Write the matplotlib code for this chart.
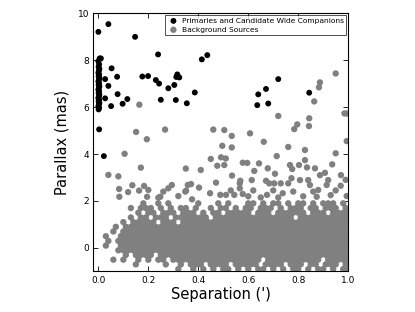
import numpy as np
import matplotlib
matplotlib.use("Agg")
import matplotlib.pyplot as plt

# === Primaries and candidate wide companions (black) ===
prim_sep = [0.000, 0.040, 0.147, 0.005, 0.010, 0.053, 0.075, 0.027, 0.040, 0.077,
            0.027, 0.116, 0.097, 0.176, 0.199, 0.230, 0.243, 0.239, 0.280, 0.304,
            0.316, 0.324, 0.312, 0.386, 0.414, 0.436, 0.250, 0.310, 0.354, 0.051,
            0.003, 0.022, 0.720, 0.671, 0.640, 0.636, 0.680, 0.844]
prim_plx = [9.20, 9.53, 8.99, 8.07, 8.07, 7.65, 7.29, 7.19, 6.90, 6.55,
            6.37, 6.34, 6.14, 7.30, 7.32, 7.15, 7.00, 8.24, 6.80, 6.94,
            7.39, 7.26, 7.28, 6.62, 8.03, 8.21, 6.31, 6.30, 6.16, 6.04,
            5.05, 3.91, 7.19, 6.77, 6.54, 6.08, 6.15, 6.61]

# dense column of primaries at ~zero separation
col_sep = [0.001, 0.003, 0.000, 0.002, 0.004, 0.001, 0.003, 0.000, 0.002, 0.004,
           0.001, 0.003, 0.000, 0.002, 0.004, 0.001, 0.003, 0.000, 0.002, 0.004,
           0.001, 0.003, 0.000, 0.002, 0.004, 0.001, 0.003, 0.000]
col_plx = [5.90, 5.96, 6.03, 6.10, 6.17, 6.24, 6.31, 6.38, 6.45, 6.52,
           6.60, 6.67, 6.74, 6.81, 6.88, 6.95, 7.02, 7.09, 7.16, 7.23,
           7.31, 7.38, 7.46, 7.54, 7.62, 7.71, 7.82, 7.95]

# === Background sources: sparse points above the main cloud ===
bg_sep = [0.164, 0.151, 0.267, 0.194, 0.105, 0.170, 0.040, 0.080, 0.083, 0.084,
          0.119, 0.136, 0.163, 0.183, 0.200, 0.195, 0.240, 0.260, 0.280, 0.294,
          0.320, 0.350, 0.351, 0.358, 0.371, 0.410, 0.403, 0.450, 0.460, 0.496,
          0.491, 0.476, 0.471, 0.447, 0.488, 0.375, 0.248, 0.348, 0.950, 0.887,
          0.883, 0.864, 0.720, 0.796, 0.784, 0.844, 0.843, 0.985, 0.995, 0.607,
          0.504, 0.534, 0.662, 0.534, 0.760, 0.827, 0.994, 0.714, 0.510, 0.504,
          0.578, 0.596, 0.643, 0.950, 0.827, 0.936, 0.767, 0.803, 0.776, 0.835,
          0.867, 0.907, 0.887, 0.971, 0.624, 0.678, 0.707, 0.535, 0.568, 0.566,
          0.566, 0.614, 0.671, 0.684, 0.704, 0.730, 0.511, 0.544, 0.578, 0.675,
          0.738, 0.760, 0.773, 0.807, 0.840, 0.847, 0.920, 0.914, 0.994, 0.880,
          0.874, 0.620, 0.650, 0.700, 0.780, 0.820, 0.950, 0.970, 0.600, 0.860,
          0.930, 0.720, 0.530, 0.990]
bg_plx = [6.10, 4.94, 5.04, 4.63, 4.01, 3.42, 3.11, 3.05, 2.51, 2.18,
          2.38, 2.67, 2.44, 2.64, 2.47, 2.18, 2.14, 2.40, 2.54, 2.68,
          2.21, 3.38, 2.44, 2.68, 2.72, 3.32, 2.57, 3.79, 5.04, 4.35,
          3.86, 3.50, 2.78, 2.33, 2.26, 2.07, 2.18, 2.40, 7.43, 7.05,
          6.84, 6.24, 5.62, 5.26, 5.06, 5.52, 5.19, 5.73, 5.72, 4.88,
          5.02, 4.77, 4.52, 4.28, 4.30, 4.17, 4.55, 3.91, 3.81, 3.53,
          3.63, 3.62, 3.60, 4.03, 3.74, 3.56, 3.53, 3.53, 3.36, 3.43,
          3.39, 3.20, 3.10, 3.10, 3.28, 3.39, 3.16, 3.08, 2.86, 2.75,
          2.54, 2.89, 2.86, 2.75, 2.75, 2.75, 2.26, 2.26, 2.30, 2.26,
          2.33, 2.75, 2.97, 2.89, 2.89, 2.68, 2.89, 2.68, 2.21, 2.47,
          2.18, 2.45, 2.15, 2.45, 2.40, 2.20, 2.45, 2.65, 2.20, 2.40,
          2.25, 2.15, 2.45, 2.90]

# === Background sources: occupancy of the dense cloud ===
# one row per parallax level, one character per 0.02' of separation ('#' = source)
cloud_plx = [1.9, 1.7, 1.5, 1.3, 1.1, 0.9, 0.7, 0.5, 0.3, 0.1, -0.1, -0.3, -0.5, -0.7, -0.9]
cloud_rows = [
    ".........# ..#.#..... #...#.#... ##.#.##.#. ##.#.###.# .",
    "......#.## #.#.#.##.# ..#.##.#.# #.###.#.## #.##.###.# #",
    "........#. ##.###.### .#.##.#### #.###.#### ##.###.### #",
    "......#.## .###.##### ##.####### #########. ########## .",
    ".....#.### ##.###.### ########## ########## ########## #",
    "...#.##### ########## ########## ########## ########## .",
    "...#.##### ########## ########## ########## ########## #",
    ".#..###### ########## ########## ########## ########## .",
    "..#.###### ########## ########## ########## ########## #",
    ".#..###### ########## ########## ########## ########## .",
    "....###### ########## ########## ########## ########## #",
    ".....#.### #.######## ########## ########## ########## .",
    "...#.#..#. #.##.##### ########## ###.###### #####.#### #",
    ".......#.. ...#..#.## #.####.### ##.####.## #.##.###.# .",
    ".......... ......#..# .#.#.##.#. #.##.#.#.# #.#.##.#.# #",
]

# expand the occupancy map into points (odd rows staggered by half a cell)
cloud_sep, cloud_y = [], []
for i, (yv, row) in enumerate(zip(cloud_plx, cloud_rows)):
    cells = row.replace(" ", "")
    for j, ch in enumerate(cells):
        if ch == "#":
            cloud_sep.append(0.02 * j + (0.01 if i % 2 else 0.0))
            cloud_y.append(yv)

all_bg_sep = np.array(bg_sep + cloud_sep)
all_bg_plx = np.array(bg_plx + cloud_y)
all_prim_sep = np.array(prim_sep + col_sep)
all_prim_plx = np.array(prim_plx + col_plx)

fig = plt.figure(figsize=(4.15, 3.12), dpi=100)
ax = fig.add_axes([0.225, 0.130, 0.614, 0.828])

ax.scatter(all_prim_sep, all_prim_plx, s=18, c="black", edgecolors="none",
           label="Primaries and Candidate Wide Companions", zorder=3)
ax.scatter(all_bg_sep, all_bg_plx, s=21, c="#808080", edgecolors="none",
           label="Background Sources", zorder=2)

ax.set_xlim(-0.02, 1.0)
ax.set_ylim(-1, 10)
ax.set_xticks([0.0, 0.2, 0.4, 0.6, 0.8, 1.0])
ax.set_yticks([0, 2, 4, 6, 8, 10])
ax.tick_params(direction="in", top=True, right=True, length=3.5, width=0.6,
               labelsize=6.5, pad=3)
for sp in ax.spines.values():
    sp.set_linewidth(0.8)

ax.set_xlabel("Separation (')", fontsize=10.5, labelpad=2)
ax.set_ylabel("Parallax (mas)", fontsize=10.5, labelpad=6)

leg = ax.legend(loc="upper right", scatterpoints=1, fontsize=5.4, frameon=True,
                fancybox=False, borderaxespad=0.25, handletextpad=0.3,
                borderpad=0.35, labelspacing=0.35, handlelength=1.6)
leg.get_frame().set_edgecolor("black")
leg.get_frame().set_linewidth(0.6)

fig.savefig("out.png", dpi=100)
